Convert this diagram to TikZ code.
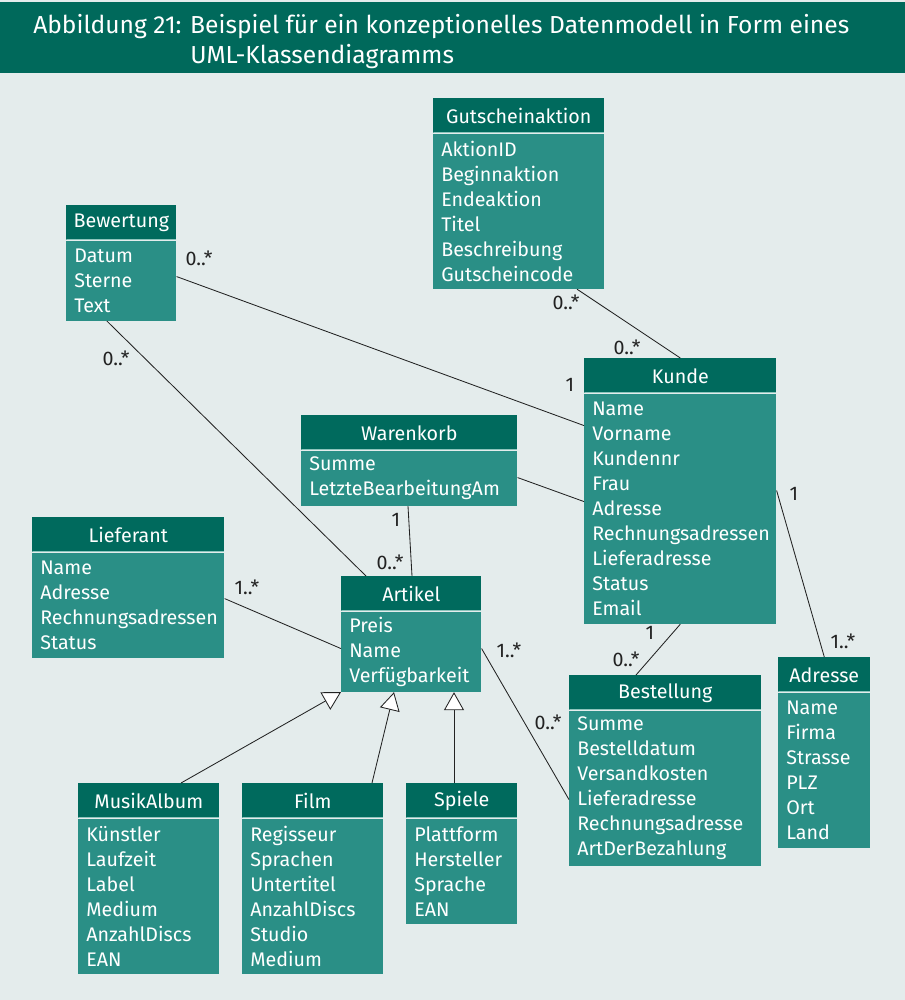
\documentclass[tikz,border=0pt]{standalone}
\usepackage{fontspec}
\setmainfont{Fira Sans}
\usetikzlibrary{calc,positioning,arrows.meta}
\definecolor{titelgruen}{RGB}{0,105,91}
\definecolor{kopfgruen}{RGB}{0,106,93}
\definecolor{rumpfgruen}{RGB}{42,143,134}
\definecolor{trenn}{RGB}{140,196,188}
\definecolor{hintergrund}{RGB}{228,236,236}
\definecolor{linie}{RGB}{34,34,34}
\tikzset{
  kopf/.style={fill=kopfgruen, text=white, anchor=north west, inner sep=0pt,
    minimum height=0.875cm,
    path picture={\draw[trenn, line width=0.8pt]
      ([yshift=0.4pt]path picture bounding box.south west) --
      ([yshift=0.4pt]path picture bounding box.south east);}},
  rumpf/.style={fill=rumpfgruen, text=white, align=left, inner xsep=0.2cm, inner ysep=0pt},
  kante/.style={draw=linie, line width=0.6pt},
  erbt/.style={kante, -{Triangle[open, fill=white, length=0.45cm, width=0.5cm]}},
  mult/.style={text=linie, inner sep=0pt},
  titel/.style={text=white, anchor=base west, inner sep=0pt, font=\fontsize{17.5}{21}\selectfont}
}
\begin{document}
\begin{tikzpicture}[x=0.025cm, y=-0.025cm, font=\fontsize{14}{17.78}\selectfont]
\useasboundingbox (0,0) rectangle (905,1000);
\fill [hintergrund] (0,0) rectangle (905,1000);
\fill [titelgruen] (0,2) rectangle (905,73);
\node [titel] (titel1) at (33,33) {Abbildung 21: Beispiel für ein konzeptionelles Datenmodell in Form eines};
\node [titel] (titel2) at (190,63) {UML-Klassendiagramms};

% Klassen
\node [kopf, minimum width=4.275cm] (gutschein) at (433,98) {Gutscheinaktion};
\node [rumpf, text width=3.875cm, minimum height=3.875cm, below=0pt of gutschein] (gutschein-a)
  {AktionID\\ Beginnaktion\\ Endeaktion\\ Titel\\ Beschreibung\\ Gutscheincode};
\node [kopf, minimum width=2.75cm] (bewertung) at (66,205) {Bewertung};
\node [rumpf, text width=2.35cm, minimum height=2cm, below=0pt of bewertung] (bewertung-a)
  {Datum\\ Sterne\\ Text};
\node [kopf, minimum width=4.8cm] (kunde) at (584,358) {Kunde};
\node [rumpf, text width=4.4cm, minimum height=5.75cm, below=0pt of kunde] (kunde-a)
  {Name\\ Vorname\\ Kundennr\\ Frau\\ Adresse\\ Rechnungsadressen\\ Lieferadresse\\ Status\\ Email};
\node [kopf, minimum width=5.4cm] (warenkorb) at (301,415) {Warenkorb};
\node [rumpf, text width=5cm, minimum height=1.375cm, below=0pt of warenkorb] (warenkorb-a)
  {Summe\\ LetzteBearbeitungAm};
\node [kopf, minimum width=4.8cm] (lieferant) at (32,517) {Lieferant};
\node [rumpf, text width=4.4cm, minimum height=2.625cm, below=0pt of lieferant] (lieferant-a)
  {Name\\ Adresse\\ Rechnungsadressen\\ Status};
\node [kopf, minimum width=3.5cm] (artikel) at (341,576) {Artikel};
\node [rumpf, text width=3.1cm, minimum height=2cm, below=0pt of artikel] (artikel-a)
  {Preis\\ Name\\ Verfügbarkeit};
\node [kopf, minimum width=4.8cm] (bestellung) at (569,675) {Bestellung};
\node [rumpf, text width=4.4cm, minimum height=3.875cm, below=0pt of bestellung] (bestellung-a)
  {Summe\\ Bestelldatum\\ Versandkosten\\ Lieferadresse\\ Rechnungsadresse\\ ArtDerBezahlung};
\node [kopf, minimum width=2.3cm] (adresse) at (778,657) {Adresse};
\node [rumpf, text width=1.9cm, minimum height=3.875cm, below=0pt of adresse] (adresse-a)
  {Name\\ Firma\\ Strasse\\ PLZ\\ Ort\\ Land};
\node [kopf, minimum width=3.525cm] (musik) at (78,783) {MusikAlbum};
\node [rumpf, text width=3.125cm, minimum height=3.875cm, below=0pt of musik] (musik-a)
  {Künstler\\ Laufzeit\\ Label\\ Medium\\ AnzahlDiscs\\ EAN};
\node [kopf, minimum width=3.525cm] (film) at (242,783) {Film};
\node [rumpf, text width=3.125cm, minimum height=3.875cm, below=0pt of film] (film-a)
  {Regisseur\\ Sprachen\\ Untertitel\\ AnzahlDiscs\\ Studio\\ Medium};
\node [kopf, minimum width=2.775cm] (spiele) at (406,783) {Spiele};
\node [rumpf, text width=2.375cm, minimum height=2.625cm, below=0pt of spiele] (spiele-a)
  {Plattform\\ Hersteller\\ Sprache\\ EAN};

% Assoziationen
\draw [kante] ($(bewertung-a.north east)+(0,36)$) -- ($(kunde-a.north west)+(0,32)$);
\draw [kante] ($(bewertung-a.south west)+(41,0)$) -- ($(artikel.north west)+(25,0)$);
\draw [kante] ($(gutschein-a.south west)+(144,0)$) -- (kunde.north);
\draw [kante] ($(warenkorb-a.north east)+(0,27)$) -- ($(kunde-a.north west)+(0,108)$);
\draw [kante] ($(warenkorb-a.south west)+(107,0)$) -- ($(artikel.north west)+(71,0)$);
\draw [kante] ($(kunde-a.north east)+(0,97)$) -- (adresse.north);
\draw [kante] (kunde-a.south) -- ($(bestellung.north west)+(67,0)$);
\draw [kante] ($(lieferant-a.north east)+(0,46)$) -- ($(artikel-a.north west)+(0,37)$);
\draw [kante] ($(artikel-a.north east)+(0,37)$) -- ($(bestellung-a.north west)+(0,89)$);

% Vererbung
\draw [erbt] ($(musik.north west)+(103,0)$) -- (artikel-a.south west);
\draw [erbt] ($(film.north west)+(130,0)$) -- ($(artikel-a.south west)+(53,0)$);
\draw [erbt] ($(spiele.north west)+(48,0)$) -- ($(artikel-a.south west)+(113,0)$);

% Multiplizitaeten
\node [mult] (bew-kun) at (199,258) {0..*};
\node [mult] (kun-bew) at (570,385) {1};
\node [mult] (bew-art) at (116,358) {0..*};
\node [mult] (art-bew) at (390,562) {0..*};
\node [mult] (war-art) at (396,520) {1};
\node [mult] (gut-kun) at (566,302) {0..*};
\node [mult] (kun-gut) at (627,347) {0..*};
\node [mult] (kun-adr) at (794,494) {1};
\node [mult] (adr-kun) at (843,641) {1..*};
\node [mult] (kun-bes) at (650,633) {1};
\node [mult] (bes-kun) at (626,659) {0..*};
\node [mult] (lie-art) at (247,587) {1..*};
\node [mult] (art-bes) at (509,650) {1..*};
\node [mult] (bes-art) at (548,722) {0..*};
\end{tikzpicture}
\end{document}
